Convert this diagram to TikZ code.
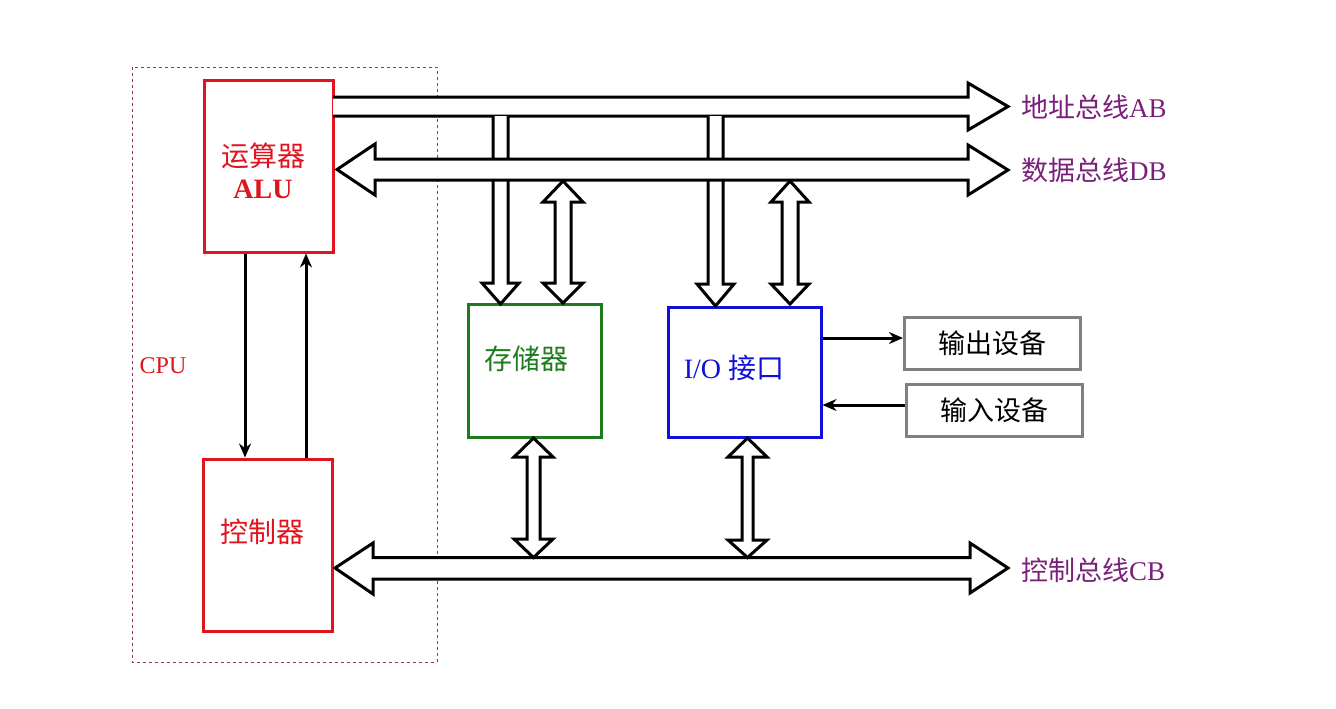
\documentclass[tikz,border=0pt]{standalone}
\usepackage{fontspec}
\setmainfont{Liberation Serif}
\newfontfamily\cjk{Noto Sans CJK SC}
\usetikzlibrary{arrows.meta}

\definecolor{cpured}{HTML}{E0141E}
\definecolor{cpuline}{HTML}{A03060}
\definecolor{busviolet}{HTML}{7A1F7A}
\definecolor{memgreen}{HTML}{1E7B1E}
\definecolor{ioblue}{HTML}{1010D8}
\definecolor{devgray}{HTML}{808080}

\tikzset{
  unit/.style={draw,line width=1.5pt,inner sep=0pt},
  dev/.style={draw=devgray,line width=1.5pt,inner sep=0pt,minimum width=88pt,minimum height=26pt,font=\cjk\fontsize{13.5}{15}\selectfont},
  bus/.style={draw,fill=white,line width=1.5pt,line join=miter},
  wire/.style={->,line width=1.5pt},
  buslabel/.style={anchor=west,text=busviolet,font=\fontsize{13.5}{15}\selectfont},
}

\begin{document}
\begin{tikzpicture}[x=0.5pt,y=-0.5pt,>={Stealth[length=7pt,width=6pt]}]
    \useasboundingbox (0,0) rectangle (1336,708);

    % CPU
    \draw[cpuline,line width=0.5pt,dash pattern=on 1.5pt off 1.5pt] (132,67) rectangle (437,662);
    \node[text=cpured,font=\fontsize{12}{14}\selectfont] (cpu) at (163,366) {CPU};

    \node[unit,draw=cpured,minimum width=64.5pt,minimum height=86pt] (alu) at (268.5,166) {};
    \node[text=cpured,align=center,font=\fontsize{14}{17}\selectfont] (alutext) at (263,171)
        {{\cjk 运算器}\\[-1pt]\textbf{ALU}};
    \node[unit,draw=cpured,minimum width=64.5pt,minimum height=86pt] (ctrl) at (267.5,545) {};
    \node[text=cpured,font=\cjk\fontsize{14}{17}\selectfont] (ctrltext) at (262,532) {控制器};

    \draw[wire] (245,0 |- alu.south) -- (245,0 |- ctrl.north);
    \draw[wire] (306,0 |- ctrl.north) -- (306,0 |- alu.south);

    % Memory and I/O
    \node[unit,draw=memgreen,minimum width=66.5pt,minimum height=66.5pt] (mem) at (534.5,370.5) {};
    \node[text=memgreen,font=\cjk\fontsize{14}{17}\selectfont] (memtext) at (526,359) {存储器};
    \node[unit,draw=ioblue,minimum width=76.5pt,minimum height=65pt] (io) at (744.5,372) {};
    \node[text=ioblue,font=\fontsize{14}{17}\selectfont] (iotext) at (734,368) {I/O {\cjk 接口}};

    \node[dev] (outdev) at (992.5,343.5) {输出设备};
    \node[dev] (indev) at (994,410) {输入设备};
    \draw[wire] (io.east |- 0,338) -- (outdev.west |- 0,338);
    \draw[wire] (indev.west |- 0,405) -- (io.east |- 0,405);

    % Address bus
    \draw[bus] (333,97) -- (968,97) -- (968,83) -- (1008,106.5) -- (968,130) -- (968,116) -- (333,116);
    \draw[bus] (493,116) -- (493,283) -- (482,283) -- (500.5,304) -- (519,283) -- (508,283) -- (508,116);
    \draw[bus] (708,116) -- (708,284) -- (697,284) -- (715.5,306) -- (734,284) -- (723,284) -- (723,116);

    % Data bus
    \draw[bus] (337,169.5) -- (375,144) -- (375,159) -- (968,159) -- (968,145) -- (1008,170)
        -- (968,195) -- (968,180) -- (375,180) -- (375,195) -- cycle;
    \draw[bus] (563,181) -- (583,202) -- (571,202) -- (571,283) -- (583,283) -- (563,303)
        -- (543,283) -- (555,283) -- (555,202) -- (543,202) -- cycle;
    \draw[bus] (790,181) -- (809,202) -- (798,202) -- (798,284) -- (809,284) -- (790,304)
        -- (771,284) -- (782,284) -- (782,202) -- (771,202) -- cycle;

    % Control bus
    \draw[bus] (335,568) -- (373,543) -- (373,557.5) -- (970,557.5) -- (970,543) -- (1008,568)
        -- (970,593) -- (970,579) -- (373,579) -- (373,594) -- cycle;
    \draw[bus] (533.5,438) -- (553,457) -- (540,457) -- (540,539) -- (553,539) -- (533.5,557.5)
        -- (514,539) -- (527,539) -- (527,457) -- (514,457) -- cycle;
    \draw[bus] (747.5,438) -- (767,457) -- (753,457) -- (753,540) -- (767,540) -- (747.5,557.5)
        -- (728,540) -- (742,540) -- (742,457) -- (728,457) -- cycle;

    % Bus names
    \node[buslabel] (ab) at (1014,107) {{\cjk 地址总线}AB};
    \node[buslabel] (db) at (1014,170) {{\cjk 数据总线}DB};
    \node[buslabel] (cb) at (1014,570) {{\cjk 控制总线}CB};
\end{tikzpicture}
\end{document}
